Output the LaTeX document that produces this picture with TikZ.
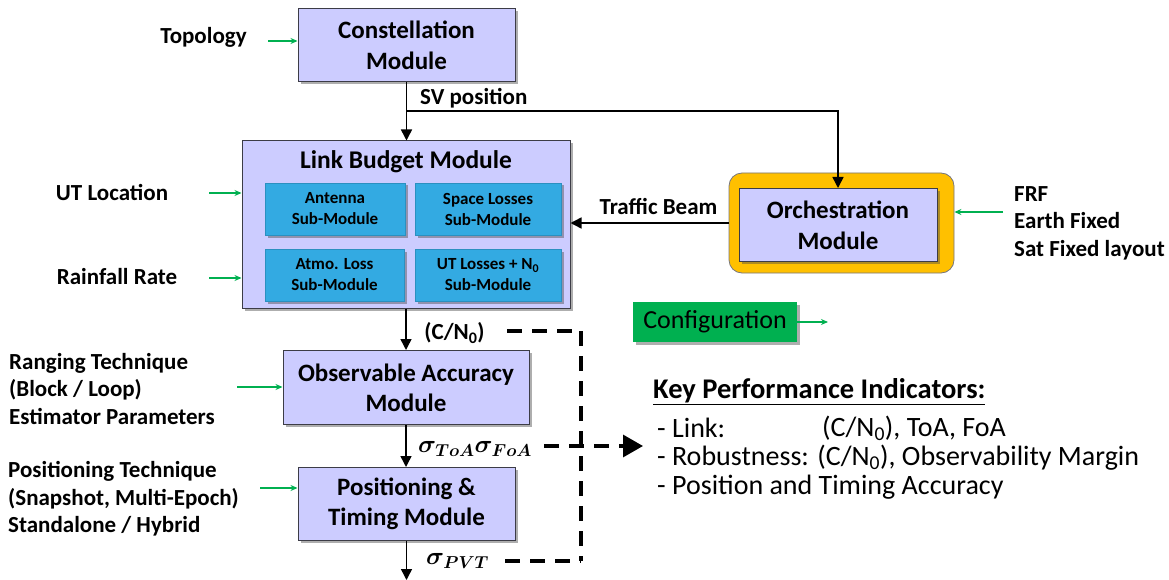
\documentclass[tikz,border=0pt]{standalone}
\usepackage{bm}
\usepackage{fontspec}
\setmainfont{Carlito}
\usetikzlibrary{arrows.meta,shadows}
\definecolor{lav}{RGB}{204,204,255}
\definecolor{subblue}{RGB}{51,170,226}
\definecolor{gold}{RGB}{255,192,0}
\definecolor{cgreen}{RGB}{0,176,80}
\definecolor{bord}{RGB}{60,60,70}
\tikzset{
  shad/.style={drop shadow={shadow xshift=2.5pt,shadow yshift=-2.5pt,opacity=0.45,fill=black!70}},
  module/.style={draw=bord,fill=lav,line width=1pt,shad,align=center,inner sep=0pt,
     font=\bfseries\fontsize{25}{31}\selectfont},
  subm/.style={fill=subblue,draw=subblue!85!black,line width=0.4pt,shad,align=center,inner sep=0pt,
     minimum height=52pt,font=\bfseries\fontsize{17}{21}\selectfont},
  lbl/.style={font=\bfseries\fontsize{23}{27.5}\selectfont,inner sep=0pt,align=left},
  kpi/.style={font=\fontsize{28}{30}\selectfont,inner sep=0pt,anchor=west},
  sigl/.style={font=\fontsize{23}{26}\selectfont,inner sep=0pt,anchor=west},
  garrow/.style={draw=cgreen,line width=1.3pt,-{Stealth[length=7pt,width=6pt]}},
  barrow/.style={draw=black,line width=1.5pt,-{Triangle[length=11pt,width=11pt]}},
  dashline/.style={draw=black,line width=3.2pt,dash pattern=on 15pt off 10pt}
}
\begin{document}
\begin{tikzpicture}[x=1pt,y=-1pt]
\useasboundingbox (0,0) rectangle (1169,580);

% Constellation
\node[module,minimum width=217pt,minimum height=73pt] (cm) at (406.5,45) {Constellation\\Module};
\node[lbl] (topo) at (203.5,37) {Topology};
\coordinate (topoA) at (268,41);
\draw[garrow] (topoA) -- (cm.west |- topoA);

% Link budget
\node[module,minimum width=328pt,minimum height=167pt] (lb) at (406,224.5) {};
\node[font=\bfseries\fontsize{25.5}{30}\selectfont,inner sep=0pt] (lbt) at (406,162) {Link Budget Module};
\node[subm,minimum width=140pt] (ant) at (335,209) {Antenna\\Sub-Module};
\node[subm,minimum width=146pt] (spl) at (488,209) {Space Losses\\Sub-Module};
\node[subm,minimum width=139pt] (atm) at (334.5,275) {Atmo. Loss\\Sub-Module};
\node[subm,minimum width=146pt] (utl) at (488,275) {UT Losses + N\textsubscript{0}\\Sub-Module};

\node[lbl] (utloc) at (112,192) {UT Location};
\node[lbl] (rain) at (117,277) {Rainfall Rate};
\coordinate (utA) at (209,193);
\coordinate (rainA) at (209,278);
\draw[garrow] (utA) -- (lb.west |- utA);
\draw[garrow] (rainA) -- (lb.west |- rainA);

\draw[barrow] (cm.south) -- (cm.south |- lb.north);
\coordinate (sv) at (406.5,111);
\node[lbl,anchor=west] (svl) at (420,98) {SV position};

% Orchestration
\node[draw=bord!70,fill=gold,rounded corners=13pt,line width=0.8pt,minimum width=225pt,minimum height=100pt,inner sep=0pt] (orout) at (841.5,223) {};
\node[module,minimum width=198pt,minimum height=73pt] (orin) at (838,225) {Orchestration\\Module};
\draw[barrow] (sv) -| (orin.north);
\draw[barrow] (orout.west) -- (lb.east |- orout.west);
\node[lbl] (tb) at (658.5,206) {Traffic Beam};
\node[lbl,anchor=west] (frf) at (1014,223) {FRF\\Earth Fixed\\Sat Fixed layout};
\coordinate (frfA) at (1003,212);
\draw[garrow] (frfA) -- (orout.east |- frfA);

% Configuration
\node[fill=cgreen,shad,minimum width=164pt,minimum height=40pt,inner sep=0pt,font=\fontsize{26}{28}\selectfont] (cfg) at (715,322) {Configuration};
\coordinate (cfgA) at (828,322);
\draw[garrow] (cfg.east) -- (cfgA);

% Observable accuracy
\node[module,minimum width=246pt,minimum height=74pt,font=\bfseries\fontsize{25}{30}\selectfont] (oa) at (406,387.5) {Observable Accuracy\\Module};
\draw[barrow] (lb.south) -- (lb.south |- oa.north);
\node[lbl] (cn0) at (454.5,333) {(C/N\textsubscript{0})};
\node[lbl,anchor=west] (rang) at (9,389) {Ranging Technique\\(Block / Loop)\\Estimator Parameters};
\coordinate (rangA) at (237,387);
\draw[garrow] (rangA) -- (oa.west |- rangA);

% Positioning
\node[module,minimum width=217pt,minimum height=73pt,font=\bfseries\fontsize{25}{30}\selectfont] (pt) at (406.5,504) {Positioning \&\\Timing Module};
\draw[barrow] (oa.south) -- (oa.south |- pt.north);
\node[sigl] (sig) at (418,449) {$\bm{\sigma_{ToA}\sigma_{FoA}}$};
\node[lbl,anchor=west] (posl) at (8,499) {Positioning Technique\\(Snapshot, Multi-Epoch)\\Standalone / Hybrid};
\coordinate (posA) at (260,488);
\draw[garrow] (posA) -- (pt.west |- posA);
\coordinate (outB) at (406.5,580);
\draw[barrow] (pt.south) -- (outB);
\node[sigl] (sigp) at (426,561) {$\bm{\sigma_{PVT}}$};

% dashed
\coordinate (d1) at (507,331);
\coordinate (d2) at (581,331);
\coordinate (d3) at (581,561);
\coordinate (d4) at (505,561);
\draw[dashline] (d1) -- (d2);
\draw[dashline] (d2) -- (d3);
\draw[dashline] (d4) -- (d3);
\coordinate (m1) at (544,446);
\coordinate (m2) at (643,446);
\draw[dashline,-{Triangle[length=20pt,width=22pt]}] (m1) -- (m2);

% KPI
\node[kpi,font=\bfseries\fontsize{28.5}{30}\selectfont] (kt) at (653,392) {\underline{Key Performance Indicators:}};
\node[kpi] (k1) at (657,428) {- Link:};
\node[kpi] (k1b) at (822,428) {(C/N\textsubscript{0}), ToA, FoA};
\node[kpi] (k2) at (657,458) {- Robustness: (C/N\textsubscript{0}), Observability Margin};
\node[kpi] (k3) at (657,487) {- Position and Timing Accuracy};
\end{tikzpicture}
\end{document}
